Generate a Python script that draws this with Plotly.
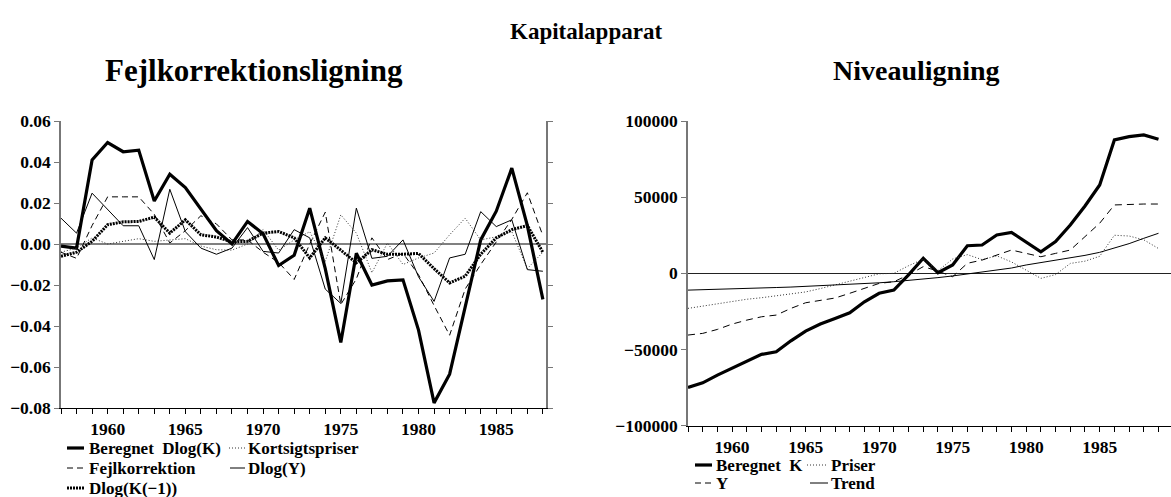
import plotly.graph_objects as go

# ---- Fejlkorrektionsligning (annual growth decomposition) ----
years_fk = list(range(1957, 1989))
beregnet_dlogk = [-0.001, -0.002, 0.041, 0.0495, 0.045, 0.0458, 0.021, 0.034, 0.0275, 0.017,
                  0.0065, 0.000, 0.011, 0.005, -0.0105, -0.0055, 0.0175, -0.012, -0.048, -0.0045,
                  -0.020, -0.018, -0.0175, -0.042, -0.0775, -0.0635, -0.030, 0.002, 0.016, 0.037,
                  0.009, -0.027]
kortsigtspriser = [-0.004, -0.002, 0.003, 0.000, 0.0013, 0.0026, 0.0013, 0.002, 0.0026, -0.001,
                   -0.0028, -0.003, 0.000, 0.007, -0.003, 0.002, 0.006, -0.0085, 0.0142, 0.0053,
                   -0.014, 0.0005, -0.010, -0.0068, -0.0044, 0.0045, 0.0126, 0.002, 0.0035, 0.006,
                   -0.012, -0.004]
fejlkorrektion = [-0.004, -0.007, 0.009, 0.023, 0.023, 0.023, 0.0145, 0.0005, 0.0065, 0.0138,
                  0.0098, 0.002, 0.002, -0.004, -0.009, -0.0173, 0.000, 0.0155, -0.0295, -0.017,
                  0.003, -0.0076, -0.0045, -0.015, -0.030, -0.0445, -0.022, -0.010, 0.001, 0.012,
                  0.025, 0.004]
dlog_y = [0.0126, 0.0053, 0.0248, 0.0167, 0.0089, 0.0089, -0.0076, 0.0267, 0.006, -0.002,
          -0.005, -0.002, 0.008, -0.0036, -0.0044, 0.007, 0.003, -0.022, -0.029, 0.0175,
          -0.007, -0.006, 0.002, -0.016, -0.028, -0.0068, -0.005, 0.0158, 0.0085, 0.0118,
          -0.0125, -0.0133]
dlog_k_lag = [-0.006, -0.004, 0.0013, 0.0094, 0.0108, 0.011, 0.0131, 0.0053, 0.0118, 0.0045,
              0.0034, 0.001, 0.0013, 0.0053, 0.0061, 0.003, -0.0068, 0.003, -0.003, -0.0092,
              -0.0028, -0.005, -0.005, -0.0046, -0.012, -0.019, -0.0157, -0.005, 0.003, 0.007,
              0.009, -0.004]
fk_ticks = [0.06, 0.04, 0.02, 0.00, -0.02, -0.04, -0.06, -0.08]
fk_ticklabels = ["0.06", "0.04", "0.02", "0.00", "\u22120.02", "\u22120.04", "\u22120.06", "\u22120.08"]

# ---- Niveauligning (level decomposition) ----
years_nv = list(range(1957, 1990))
beregnet_k = [-74900, -71900, -66800, -62400, -57600, -53200, -51500, -44300, -37900, -33300,
              -29600, -25900, -18700, -13100, -11000, -1000, 9900, 400, 5500, 18100,
              18600, 25200, 26900, 20800, 14200, 20800, 31700, 44200, 58000, 87600,
              89700, 90900, 88000]
priser = [-23000, -21500, -20000, -18500, -17000, -16000, -14800, -13500, -12200, -10000,
          -7500, -5000, -2400, -300, 0, 5000, 9300, 1700, 9400, 12300,
          9000, 11500, 7500, 2200, -3300, -800, 6500, 8000, 11200, 25000,
          24500, 22000, 16300]
y_level = [-40500, -39400, -36800, -33300, -30700, -28500, -27400, -23000, -19300, -17500,
           -16200, -13100, -9900, -6600, -5500, -1000, 4400, 1500, -2200, 6600,
           8700, 12000, 15300, 13100, 10900, 13100, 15300, 24100, 32900, 44900,
           45300, 45500, 45500]
trend = [-11000, -10800, -10500, -10200, -9900, -9600, -9300, -9000, -8600, -8200,
         -7800, -7300, -6800, -6200, -5500, -4700, -3800, -2800, -1700, -500,
         800, 2100, 3500, 5500, 7000, 8500, 10000, 11800, 13800, 16500,
         19500, 23000, 26300]
nv_ticks = [100000, 50000, 0, -50000, -100000]
nv_ticklabels = ["100000", "50000", "0", "\u221250000", "\u2212100000"]

W, H = 1171, 497
FONT = "Liberation Serif"

def px(x):
    return x / W

def py(y):
    return 1 - y / H

THICK = dict(color="black", width=3.2)
DASH = dict(color="black", width=1, dash="6px,4px")
DOT = dict(color="#333333", width=1, dash="1px,2px")
THIN = dict(color="black", width=1)
THICKDOT = dict(color="black", width=3, dash="2px,1px")

fig = go.Figure()

fk_series = [
    ("Beregnet  Dlog(K)", beregnet_dlogk, THICK),
    ("Kortsigtspriser", kortsigtspriser, DOT),
    ("Fejlkorrektion", fejlkorrektion, DASH),
    ("Dlog(Y)", dlog_y, THIN),
    ("Dlog(K(\u22121))", dlog_k_lag, THICKDOT),
]
for name, vals, ln in fk_series:
    fig.add_trace(go.Scatter(x=years_fk, y=vals, mode="lines", line=ln, name=name,
                             xaxis="x", yaxis="y", showlegend=False))

nv_series = [
    ("Beregnet  K", beregnet_k, THICK),
    ("Priser", priser, DOT),
    ("Y", y_level, dict(color="black", width=1, dash="7px,5px")),
    ("Trend", trend, THIN),
]
for name, vals, ln in nv_series:
    fig.add_trace(go.Scatter(x=years_nv, y=vals, mode="lines", line=ln, name=name,
                             xaxis="x2", yaxis="y2", showlegend=False))

tickfont = dict(family=FONT, size=17.5, color="black", weight="bold")

def xaxis_style(domain, rng, anchor):
    return dict(domain=domain, range=rng, anchor=anchor, automargin=False,
                tickmode="linear", tick0=1960, dtick=5,
                ticks="outside", ticklen=5, tickwidth=1, tickcolor="black",
                showline=True, linecolor="black", linewidth=1.2,
                showgrid=False, zeroline=False, tickfont=tickfont,
                minor=dict(dtick=1, tick0=1957, ticks="outside", ticklen=5,
                           tickwidth=1, tickcolor="black", showgrid=False))

fig.update_layout(
    template="none",
    width=W, height=H,
    margin=dict(l=0, r=0, t=0, b=0, pad=0, autoexpand=False),
    paper_bgcolor="white", plot_bgcolor="white",
    xaxis=xaxis_style([px(61), px(546)], [1957, 1988.2], "y"),
    yaxis=dict(domain=[py(408), py(121)], range=[-0.08, 0.06], anchor="x", automargin=False,
               tickmode="array", tickvals=fk_ticks, ticktext=fk_ticklabels,
               ticks="outside", ticklen=5, tickwidth=1, tickcolor="#777777",
               showline=True, linecolor="#777777", linewidth=1.5, mirror="ticks",
               showgrid=False, zeroline=True, zerolinecolor="#808080", zerolinewidth=2,
               tickfont=tickfont),
    xaxis2=xaxis_style([px(688), 1.0], [1957, 1989.85], "y2"),
    yaxis2=dict(domain=[py(425.7), py(121)], range=[-100000, 100000], anchor="x2",
                automargin=False,
                tickmode="array", tickvals=nv_ticks, ticktext=nv_ticklabels,
                ticks="outside", ticklen=5, tickwidth=1, tickcolor="#777777",
                showline=True, linecolor="#777777", linewidth=1.5,
                showgrid=False, zeroline=True, zerolinecolor="#222222", zerolinewidth=1,
                tickfont=tickfont),
)

annotations = [
    dict(text="<b>Kapitalapparat</b>", x=px(586), y=py(32), size=23),
    dict(text="<b>Fejlkorrektionsligning</b>", x=px(254), y=py(70), size=31),
    dict(text="<b>Niveauligning</b>", x=px(916), y=py(70), size=28),
]
for a in annotations:
    fig.add_annotation(text=a["text"], x=a["x"], y=a["y"], xref="paper", yref="paper",
                       showarrow=False, xanchor="center", yanchor="middle",
                       font=dict(family=FONT, size=a["size"], color="black"))

# legend entries: (sample x0, sample x1, row y, text x, label, line style)
legend_items = [
    (67, 84, 448, 87, "Beregnet  Dlog(K)", THICK),
    (229, 245, 448, 246, "Kortsigtspriser", DOT),
    (67, 84, 468, 87, "Fejlkorrektion", DASH),
    (230, 245, 468, 246, "Dlog(Y)", THIN),
    (67, 85, 488, 87, "Dlog(K(\u22121))", THICKDOT),
    (695, 712, 465, 714, "Beregnet  K", THICK),
    (807, 828, 465, 829, "Priser", DOT),
    (695, 712, 483, 714, "Y", DASH),
    (810, 828, 483, 829, "Trend", THIN),
]
for x0, x1, yy, tx, label, ln in legend_items:
    fig.add_shape(type="line", xref="paper", yref="paper",
                  x0=px(x0), x1=px(x1), y0=py(yy), y1=py(yy),
                  line=dict(color=ln["color"], width=ln["width"], dash=ln.get("dash", "solid")))
    fig.add_annotation(text=label, x=px(tx), y=py(yy), xref="paper", yref="paper",
                       showarrow=False, xanchor="left", yanchor="middle",
                       font=dict(family=FONT, size=17, color="black", weight="bold"))

fig.write_html("out.html")
